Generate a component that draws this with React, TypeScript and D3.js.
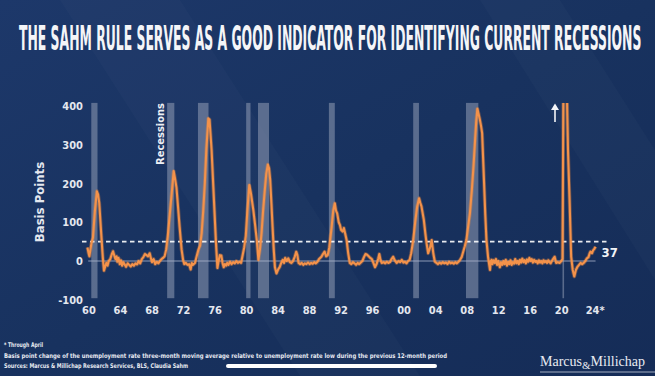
import React, { useLayoutEffect, useRef, useState } from "react";
import * as d3 from "d3";

const W = 655;
const H = 376;

const title = "THE SAHM RULE SERVES AS A GOOD INDICATOR FOR IDENTIFYING CURRENT RECESSIONS";

const yTicks = [-100, 0, 100, 200, 300, 400];
const xTickYears = [1960, 1964, 1968, 1972, 1976, 1980, 1984, 1988, 1992, 1996, 2000, 2004, 2008, 2012, 2016, 2020, 2024];
const xTickLabels = ["60", "64", "68", "72", "76", "80", "84", "88", "92", "96", "00", "04", "08", "12", "16", "20", "24*"];

const recessions: [number, number][] = [
  [1960.29, 1961.08],
  [1969.92, 1970.83],
  [1973.83, 1975.17],
  [1979.95, 1980.5],
  [1981.45, 1982.85],
  [1990.45, 1991.2],
  [2001.15, 2001.88],
  [2007.85, 2009.42],
  [2020.1, 2020.25],
];

const threshold = 50;
const latestLabel = "37";

// Sahm rule indicator, basis points (year, value)
const sahm: [number, number][] = [
  [1959.8, 35], [1959.95, 20], [1960.05, 12], [1960.3, 45], [1960.5, 60], [1960.75, 130], [1961.0, 180],
  [1961.15, 172], [1961.3, 150], [1961.55, 70], [1961.75, 10], [1961.9, -25], [1962.05, -15], [1962.2, -5],
  [1962.35, -12], [1962.5, 0], [1962.7, 5], [1962.9, 18], [1963.05, 25], [1963.2, 15], [1963.35, 5],
  [1963.5, 12], [1963.6, -2], [1963.75, 8], [1963.9, -8], [1964.05, 2], [1964.2, -12], [1964.35, -3],
  [1964.5, -8], [1964.7, -15], [1964.9, -6], [1965.1, -10], [1965.3, -14], [1965.5, -8], [1965.7, -12],
  [1965.9, -6], [1966.1, -9], [1966.3, 0], [1966.5, -6], [1966.7, 5], [1966.9, 10], [1967.1, 18],
  [1967.3, 15], [1967.5, 12], [1967.7, 20], [1967.85, 8], [1968.0, -3], [1968.2, 5], [1968.4, -8],
  [1968.6, -2], [1968.8, -6], [1969.0, 0], [1969.2, 5], [1969.4, 8], [1969.6, 12], [1969.8, 30],
  [1970.0, 65], [1970.25, 120], [1970.5, 175], [1970.75, 232], [1970.9, 215], [1971.1, 190], [1971.3, 140],
  [1971.5, 88], [1971.75, 30], [1971.95, 2], [1972.1, -8], [1972.3, -5], [1972.5, -10], [1972.7, -8],
  [1972.9, -22], [1973.05, -5], [1973.2, -10], [1973.45, -5], [1973.7, 15], [1973.9, 30], [1974.1, 40],
  [1974.3, 72], [1974.5, 130], [1974.7, 200], [1974.9, 290], [1975.15, 368], [1975.3, 365], [1975.56, 286],
  [1975.86, 157], [1976.1, 54], [1976.3, -18], [1976.45, 0], [1976.6, 15], [1976.8, 14], [1976.95, -5],
  [1977.1, -16], [1977.25, -8], [1977.4, -12], [1977.55, -5], [1977.7, -10], [1977.9, -2], [1978.1, -8],
  [1978.3, -3], [1978.5, -6], [1978.7, 0], [1978.9, -5], [1979.1, -2], [1979.3, -5], [1979.5, 15],
  [1979.7, 35], [1979.9, 65], [1980.1, 130], [1980.35, 196], [1980.55, 175], [1980.86, 131], [1981.1, 90],
  [1981.3, 54], [1981.5, 3], [1981.7, 30], [1981.9, 72], [1982.1, 130], [1982.3, 180], [1982.5, 225],
  [1982.7, 249], [1982.85, 240], [1983.0, 209], [1983.15, 150], [1983.3, 88], [1983.45, 30], [1983.6, -16],
  [1983.8, -32], [1984.0, -22], [1984.2, -16], [1984.4, -5], [1984.6, 3], [1984.75, -5], [1984.9, 8],
  [1985.1, 0], [1985.3, 7], [1985.5, -3], [1985.7, -5], [1985.9, 0], [1986.1, 10], [1986.3, 24],
  [1986.45, 15], [1986.6, -5], [1986.8, -8], [1987.0, -5], [1987.2, -10], [1987.4, -6], [1987.6, -8],
  [1987.8, -4], [1988.0, -8], [1988.2, -5], [1988.4, -7], [1988.6, -3], [1988.8, -6], [1989.0, -2],
  [1989.2, 5], [1989.5, 11], [1989.7, 18], [1989.9, 24], [1990.1, 12], [1990.3, 15], [1990.5, 35],
  [1990.8, 88], [1991.0, 130], [1991.2, 149], [1991.35, 130], [1991.5, 123], [1991.7, 100], [1991.85, 93],
  [1992.0, 80], [1992.2, 76], [1992.35, 85], [1992.5, 72], [1992.7, 54], [1992.9, 20], [1993.1, -5],
  [1993.3, -8], [1993.5, -3], [1993.7, -6], [1993.9, -10], [1994.1, -5], [1994.3, -8], [1994.5, -4],
  [1994.7, 0], [1994.9, 10], [1995.1, 18], [1995.3, 16], [1995.5, 12], [1995.7, 8], [1995.9, 5],
  [1996.1, -5], [1996.3, -16], [1996.5, -8], [1996.7, 5], [1996.85, 18], [1997.0, 3], [1997.15, -5],
  [1997.4, -3], [1997.6, -6], [1997.8, -2], [1998.0, -5], [1998.2, -3], [1998.4, 5], [1998.6, 11],
  [1998.8, 2], [1999.05, -5], [1999.3, 0], [1999.5, -3], [1999.7, 3], [1999.9, -4], [2000.1, -2],
  [2000.3, -6], [2000.5, 0], [2000.7, 3], [2000.9, 20], [2001.15, 54], [2001.4, 100], [2001.65, 140],
  [2001.9, 162], [2002.05, 150], [2002.2, 141], [2002.5, 106], [2002.7, 70], [2002.85, 46], [2003.05, 20],
  [2003.3, 35], [2003.5, 54], [2003.7, 20], [2003.9, -2], [2004.1, -5], [2004.3, -8], [2004.5, -4],
  [2004.7, -7], [2004.9, -3], [2005.1, -6], [2005.3, -4], [2005.5, -8], [2005.7, -2], [2005.9, -6],
  [2006.1, -4], [2006.3, -7], [2006.5, -3], [2006.7, -6], [2006.9, -2], [2007.1, 3], [2007.3, 10],
  [2007.5, 24], [2007.7, 38], [2007.9, 54], [2008.1, 85], [2008.35, 123], [2008.6, 185], [2008.8, 243],
  [2009.0, 310], [2009.15, 360], [2009.3, 393], [2009.45, 380], [2009.6, 366], [2009.75, 350], [2009.9, 330],
  [2010.15, 200], [2010.3, 120], [2010.45, 54], [2010.65, 11], [2010.8, -10], [2010.9, -23], [2011.0, 0],
  [2011.1, 3], [2011.2, -8], [2011.35, 2], [2011.5, -5], [2011.65, 5], [2011.8, -10], [2011.95, 0],
  [2012.15, -16], [2012.3, -3], [2012.45, -10], [2012.6, 0], [2012.75, -8], [2012.9, 3], [2013.05, -12],
  [2013.2, -2], [2013.35, -8], [2013.5, 2], [2013.65, -10], [2013.8, -3], [2013.95, -7], [2014.1, 5],
  [2014.25, -6], [2014.4, 0], [2014.55, -8], [2014.7, 3], [2014.85, -4], [2015.0, 6], [2015.15, -3],
  [2015.3, 2], [2015.45, -6], [2015.6, 4], [2015.75, -2], [2015.9, 8], [2016.05, 0], [2016.2, 5],
  [2016.35, -4], [2016.5, 3], [2016.65, -2], [2016.8, 0], [2016.95, -6], [2017.1, 2], [2017.25, -4],
  [2017.4, 0], [2017.55, -6], [2017.7, 2], [2017.85, -3], [2018.0, 0], [2018.15, -5], [2018.3, 2],
  [2018.45, -3], [2018.6, -6], [2018.75, 0], [2018.9, 5], [2019.1, 11], [2019.3, -5], [2019.5, -3],
  [2019.75, -5], [2019.95, 0], [2020.1, 5], [2020.3, 720], [2020.45, 940], [2020.58, 520], [2020.8, 286],
  [2021.0, 157], [2021.2, 11], [2021.4, -23], [2021.6, -40], [2021.8, -23], [2022.0, -15], [2022.2, -10],
  [2022.4, -5], [2022.6, -8], [2022.8, -5], [2023.0, 0], [2023.2, 7], [2023.4, 10], [2023.55, 20],
  [2023.65, 24], [2023.85, 20], [2024.0, 28], [2024.1, 30], [2024.3, 37],
];

const footnotes = [
  "* Through April",
  "Basis point change of the unemployment rate three-month moving average relative to unemployment rate low during the previous 12-month period",
  "Sources: Marcus & Millichap Research Services, BLS, Claudia Sahm",
];

const narrow = "'Liberation Sans Narrow', 'DejaVu Sans Condensed', Arial, sans-serif";

export default function App() {
  const titleRef = useRef<SVGTextElement | null>(null);
  const [titleScale, setTitleScale] = useState(0.62);
  const titleWidth = 622;

  useLayoutEffect(() => {
    const el = titleRef.current;
    if (el) {
      const len = el.getComputedTextLength();
      if (len > 0) setTitleScale(titleWidth / len);
    }
  }, []);

  const x = d3.scaleLinear().domain([1960, 2020]).range([89, 561.7]);
  const y = d3.scaleLinear().domain([0, 400]).range([261, 106]);

  const line = d3
    .line<[number, number]>()
    .x((d) => x(d[0]))
    .y((d) => y(d[1]))
    .curve(d3.curveLinear);
  const path = line(sahm) || "";

  const last = sahm[sahm.length - 1];
  const barTop = y(408);
  const barBottom = y(-96);

  return (
    <svg
      width={W}
      height={H}
      viewBox={`0 0 ${W} ${H}`}
      style={{ position: "absolute", left: 0, top: 0, display: "block" }}
    >
      <defs>
        <linearGradient id="bg" x1="0" y1="0" x2="1" y2="1">
          <stop offset="0%" stopColor="#1d386a" />
          <stop offset="50%" stopColor="#18325f" />
          <stop offset="100%" stopColor="#152c57" />
        </linearGradient>
        <clipPath id="plotClip">
          <rect x={70} y={103} width={560} height={210} />
        </clipPath>
      </defs>
      <rect x={0} y={0} width={W} height={H} fill="url(#bg)" />
      {/* subtle diagonal streaks */}
      <polygon points="60,0 180,0 420,376 300,376" fill="#ffffff" opacity={0.02} />
      <polygon points="480,0 560,0 655,150 655,280" fill="#ffffff" opacity={0.018} />

      {/* title */}
      <g transform={`translate(19,50) scale(${titleScale},1)`}>
        <text ref={titleRef} x={0} y={0} fill="#f4f5f8" fontFamily={narrow} fontWeight={700} fontSize={34}>
          {title}
        </text>
      </g>

      {/* recession bars */}
      {recessions.map(([a, b], i) => (
        <rect
          key={i}
          x={x(a)}
          y={barTop}
          width={Math.max(1.6, x(b) - x(a))}
          height={barBottom - barTop}
          fill="#929cb4"
          opacity={0.55}
        />
      ))}

      {/* zero line */}
      <line x1={x(1959.9)} x2={x(2024.3)} y1={y(0)} y2={y(0)} stroke="#aab4cc" strokeWidth={1} opacity={0.8} />

      {/* threshold */}
      <line
        x1={82}
        x2={608}
        y1={y(threshold)}
        y2={y(threshold)}
        stroke="#ffffff"
        strokeWidth={1.6}
        strokeDasharray="4.5 3.5"
        opacity={0.9}
      />

      {/* series */}
      <g clipPath="url(#plotClip)">
        <path d={path} fill="none" stroke="#f28a3c" strokeWidth={3.8} opacity={0.35} strokeLinejoin="round" />
        <path d={path} fill="none" stroke="#f4924a" strokeWidth={2.1} strokeLinejoin="round" />
      </g>

      {/* latest label */}
      <text x={x(last[0]) + 6} y={y(last[1]) + 10} fill="#f1f3f7" fontFamily={narrow} fontWeight={700} fontSize={13}>
        {latestLabel}
      </text>

      {/* arrow for off-scale spike */}
      <line x1={555} x2={555} y1={122} y2={108} stroke="#f4f5f8" strokeWidth={1.6} />
      <polygon points="551,110 559,110 555,103.5" fill="#f4f5f8" />

      {/* recessions label */}
      <text
        transform="translate(164,134) rotate(-90)"
        textAnchor="middle"
        fill="#eef0f5"
        fontFamily={narrow}
        fontWeight={700}
        fontSize={11}
      >
        Recessions
      </text>

      {/* y axis ticks */}
      {yTicks.map((t) => (
        <text
          key={t}
          x={83}
          y={y(t) + 4}
          textAnchor="end"
          fill="#e4e7ef"
          fontFamily={narrow}
          fontWeight={700}
          fontSize={11}
        >
          {t}
        </text>
      ))}

      {/* y axis title */}
      <text
        transform="translate(44,202) rotate(-90)"
        textAnchor="middle"
        fill="#e4e7ef"
        fontFamily={narrow}
        fontWeight={700}
        fontSize={13}
      >
        Basis Points
      </text>

      {/* x axis ticks */}
      {xTickYears.map((yr, i) => (
        <text
          key={yr}
          x={x(yr) + (i === xTickLabels.length - 1 ? 2 : 0)}
          y={314}
          textAnchor="middle"
          fill="#e4e7ef"
          fontFamily={narrow}
          fontWeight={700}
          fontSize={11}
        >
          {xTickLabels[i]}
        </text>
      ))}

      {/* footnotes */}
      {footnotes.map((f, i) => (
        <text
          key={i}
          x={4}
          y={347 + i * 10.5}
          fill="#e8ebf2"
          fontFamily={narrow}
          fontWeight={700}
          fontSize={6.4}
          textLength={i === 0 ? 39 : i === 1 ? 443 : 184}
          lengthAdjust="spacingAndGlyphs"
        >
          {f}
        </text>
      ))}

      {/* scrub bar */}
      <rect x={226} y={364} width={211} height={4} rx={2} fill="#ffffff" />

      {/* logo */}
      <text x={540} y={366} fill="#e8ebf2" fontFamily="'Liberation Serif', 'DejaVu Serif', serif" fontSize={14}>
        <tspan>Marcus</tspan>
        <tspan fontSize={11} dy={3}>&amp;</tspan>
        <tspan dy={-3}>Millichap</tspan>
      </text>
      <line x1={540} x2={655} y1={372} y2={372} stroke="#c9cfdd" strokeWidth={0.8} />
    </svg>
  );
}
